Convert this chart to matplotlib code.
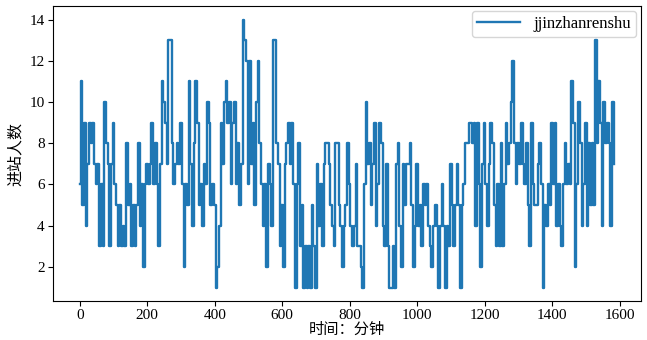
import matplotlib
matplotlib.use('Agg')
import matplotlib.pyplot as plt
import numpy as np

plt.rcParams['font.family'] = ['Liberation Serif', 'Noto Sans CJK SC']
plt.rcParams['axes.unicode_minus'] = False

# 进站人数, every 5 minutes
counts_000_220 = [6, 11, 5, 9, 4, 7, 9, 8, 9, 7, 6, 7, 3, 6, 3, 10, 8, 7, 3, 7,
                  9, 6, 5, 3, 5, 3, 4, 3, 8, 5, 6, 3, 5, 3, 5, 8, 4, 6, 2, 6,
                  7, 6, 7, 9, 6]
counts_225_455 = [8, 6, 3, 7, 11, 10, 9, 7, 13, 13, 8, 6, 7, 8, 7, 9, 6, 2, 6, 5,
                  11, 7, 4, 8, 11, 9, 5, 6, 4, 7, 6, 10, 9, 5, 6, 5, 1, 2, 4, 9,
                  7, 10, 11, 9, 10, 6, 9]
counts_460_690 = [10, 6, 8, 5, 7, 14, 13, 12, 6, 12, 7, 9, 5, 10, 12, 8, 6, 4, 6, 2,
                  7, 6, 4, 13, 13, 8, 7, 3, 5, 2, 7, 8, 9, 7, 9, 6, 1, 6, 8, 3,
                  5, 1, 3, 1, 3, 1, 5]
counts_695_925 = [3, 1, 7, 4, 6, 3, 7, 8, 8, 7, 5, 4, 3, 8, 8, 5, 4, 2, 4, 5,
                  8, 6, 4, 3, 4, 7, 3, 3, 2, 1, 6, 10, 7, 8, 5, 7, 9, 4, 6, 9,
                  8, 4, 3, 7, 3, 1, 1]
counts_930_1160 = [3, 1, 7, 8, 4, 2, 7, 5, 7, 7, 8, 5, 2, 4, 7, 4, 5, 3, 6, 5,
                   6, 4, 3, 2, 4, 5, 4, 1, 4, 6, 4, 1, 4, 3, 7, 5, 3, 5, 7, 5,
                   1, 5, 6, 8, 8, 9, 9]
counts_1165_1395 = [8, 9, 4, 9, 6, 2, 7, 9, 6, 4, 7, 9, 8, 5, 3, 6, 3, 8, 3, 6,
                    9, 7, 8, 10, 12, 8, 6, 8, 7, 9, 7, 6, 8, 5, 3, 9, 6, 5, 5, 7,
                    8, 6, 1, 5, 4, 6, 5]
counts_1400_1585 = [9, 6, 9, 4, 6, 4, 3, 6, 8, 6, 7, 6, 11, 9, 2, 6, 10, 8, 4, 6,
                    9, 4, 8, 5, 8, 5, 13, 8, 11, 9, 4, 10, 8, 9, 8, 4, 10, 7]

counts = (counts_000_220 + counts_225_455 + counts_460_690 + counts_695_925
          + counts_930_1160 + counts_1165_1395 + counts_1400_1585)
minutes = np.arange(len(counts)) * 5

fig = plt.figure(figsize=(6.47, 3.40), dpi=100)
ax = fig.add_axes([0.082, 0.115, 0.909, 0.867])

ax.plot(minutes, counts, color='#1f77b4', linewidth=1.7, drawstyle='steps-mid',
        label='jjinzhanrenshu')

ax.set_xlabel('时间：分钟', fontsize=11, labelpad=0)
ax.set_ylabel('进站人数', fontsize=11.5, labelpad=4)
ax.set_yticks([2, 4, 6, 8, 10, 12, 14])
ax.set_xticks([0, 200, 400, 600, 800, 1000, 1200, 1400, 1600])
ax.tick_params(labelsize=11, pad=2.5)
ax.legend(loc='upper right', fontsize=12, handlelength=2.6,
          borderpad=0.3, labelspacing=0.2, borderaxespad=0.3)

fig.savefig('out.png', dpi=100)
